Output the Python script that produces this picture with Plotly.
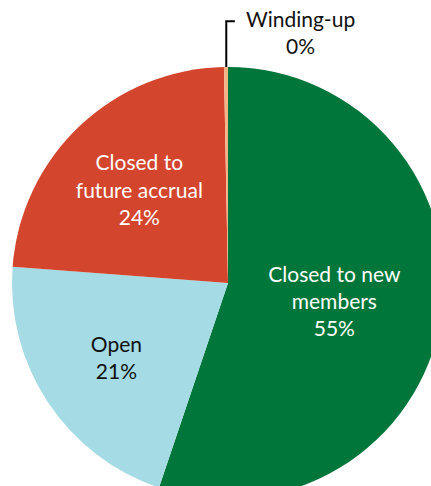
import plotly.graph_objects as go

# Scheme status breakdown (share of schemes)
categories = ["Closed to new<br>members", "Open", "Closed to<br>future accrual", "Winding-up"]
values = [55.4, 21.1, 23.6, 0.3]
colors = ["#00763B", "#A4DBE4", "#D3452D", "#F3B486"]
text_colors = ["white", "#111111", "white", "#111111"]

FONT = "Lato"

fig = go.Figure()
fig.add_trace(go.Pie(
    labels=categories,
    values=values,
    sort=False,
    direction="clockwise",
    rotation=0,
    marker=dict(colors=colors, line=dict(width=0)),
    texttemplate=["%{label}<br>%{percent:.0%}", "%{label}<br>%{percent:.0%}",
                  "%{label}<br>%{percent:.0%}", ""],
    textposition="inside",
    insidetextorientation="horizontal",
    textfont=dict(family=FONT, size=21, color=text_colors),
    showlegend=False,
    hoverinfo="skip",
))

# Label for the thin winding-up slice, with an elbow leader line
pct_wind = values[3] / sum(values)
fig.add_annotation(
    text=f"{categories[3]}<br>{pct_wind:.0%}",
    xref="paper", yref="paper", x=0.667, y=1.082,
    showarrow=False, xanchor="center", yanchor="middle", align="center",
    font=dict(family=FONT, size=21, color="#111111"),
)
fig.add_shape(
    type="path", xref="paper", yref="paper",
    path="M 0.496,1.0 L 0.496,1.106 L 0.516,1.106",
    line=dict(color="black", width=2),
)

fig.update_layout(
    width=460, height=520,
    margin=dict(l=12, r=16, t=67, b=21),
    paper_bgcolor="white",
    plot_bgcolor="white",
)

fig.write_html("out.html")
